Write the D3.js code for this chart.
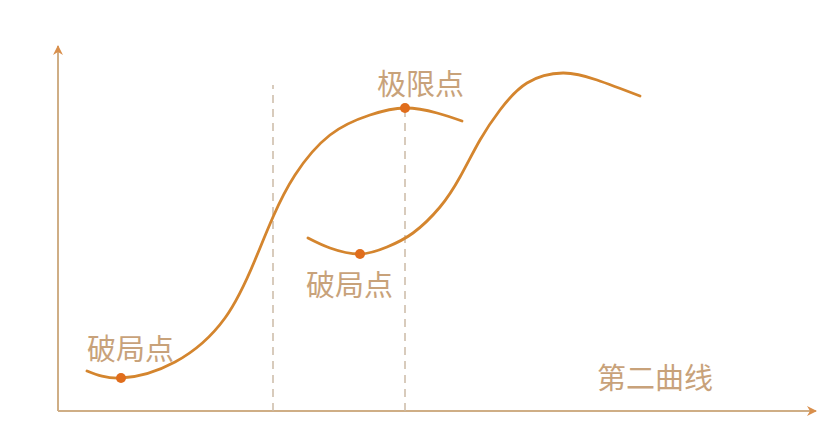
<!DOCTYPE html>
<html>
<head>
<meta charset="utf-8">
<script src="https://cdn.jsdelivr.net/npm/d3@7"></script>
<style>
  body { margin: 0; background: #fff; }
  text { font-family: "Noto Sans CJK SC", "Noto Sans", sans-serif; }
</style>
</head>
<body>
<svg id="drawing_region"></svg>
<script>
// curve values in chart units (x: 0..754 along the axis, y: 0..363 up)
const curve1 = [
    [29, 40], [63, 33], [117, 49], [167, 93], [197, 151], [215, 194],
    [237, 236], [272, 276], [312, 296], [347, 303], [379, 298], [404, 290]
];
const curve2 = [
    [250, 173], [272, 163], [302, 157], [329, 164], [355, 178], [382, 204],
    [402, 234], [422, 271], [442, 301], [469, 328], [505, 338], [539, 331],
    [582, 315]
];
const points = [
    { x: 63, y: 33, label: "破局点", dx: -34, dy: 18 },
    { x: 347, y: 303, label: "极限点", dx: -28, dy: 13 },
    { x: 302, y: 157, label: "破局点", dx: -54, dy: -42 }
];
const dividers = [215, 347];
const dividerTop = [326, 299];
const axisLabel = "第二曲线";

const config = {
    width: 838,
    height: 444,
    margin: { top: 48, right: 26, bottom: 33, left: 58 }
};

const svg = d3.select("#drawing_region")
    .attr("width", config.width)
    .attr("height", config.height);

const inner_width = config.width - config.margin.left - config.margin.right;
const inner_height = config.height - config.margin.top - config.margin.bottom;

const chart = svg.append("g")
    .attr("transform", `translate(${config.margin.left}, ${config.margin.top})`);

const xscale = d3.scaleLinear().domain([0, 754]).range([0, inner_width]);
const yscale = d3.scaleLinear().domain([0, 363]).range([inner_height, 0]);

const axisColor = "#cfae86";
const lineColor = "#d4852e";
const dotColor = "#e06d1c";
const textColor = "#c8a27a";

// arrow heads
const defs = svg.append("defs");
defs.append("marker")
    .attr("id", "arrow")
    .attr("viewBox", "0 0 10 10")
    .attr("refX", 9).attr("refY", 5)
    .attr("markerWidth", 5).attr("markerHeight", 5)
    .attr("markerUnits", "strokeWidth")
    .attr("orient", "auto")
    .append("path")
    .attr("d", "M0,0 L10,5 L0,10 L3,5 Z")
    .attr("fill", "#d98f4c");

// axes
chart.append("line")
    .attr("x1", 0).attr("y1", inner_height)
    .attr("x2", inner_width + 4).attr("y2", inner_height)
    .attr("stroke", axisColor).attr("stroke-width", 2)
    .attr("marker-end", "url(#arrow)");
chart.append("line")
    .attr("x1", 0).attr("y1", inner_height)
    .attr("x2", 0).attr("y2", -2)
    .attr("stroke", axisColor).attr("stroke-width", 2)
    .attr("marker-end", "url(#arrow)");

// dashed dividers
chart.selectAll(".divider")
    .data(dividers)
    .enter()
    .append("line")
    .attr("class", "divider")
    .attr("x1", d => xscale(d)).attr("x2", d => xscale(d))
    .attr("y1", yscale(0))
    .attr("y2", (d, i) => yscale(dividerTop[i]))
    .attr("stroke", "#cbbba6")
    .attr("stroke-width", 1.5)
    .attr("stroke-dasharray", "8,6");

// curves
const line = d3.line()
    .x(d => xscale(d[0]))
    .y(d => yscale(d[1]))
    .curve(d3.curveNatural);

[curve1, curve2].forEach(c => {
    chart.append("path")
        .datum(c)
        .attr("d", line)
        .attr("fill", "none")
        .attr("stroke", lineColor)
        .attr("stroke-width", 2.8)
        .attr("stroke-linecap", "round");
});

// key points
chart.selectAll(".dot")
    .data(points)
    .enter()
    .append("circle")
    .attr("class", "dot")
    .attr("cx", d => xscale(d.x))
    .attr("cy", d => yscale(d.y))
    .attr("r", 5)
    .attr("fill", dotColor);

chart.selectAll(".label")
    .data(points)
    .enter()
    .append("text")
    .attr("class", "label")
    .attr("x", d => xscale(d.x) + d.dx)
    .attr("y", d => yscale(d.y) - d.dy)
    .attr("font-size", "29px")
    .attr("fill", textColor)
    .text(d => d.label);

chart.append("text")
    .attr("x", xscale(539))
    .attr("y", inner_height - 22)
    .attr("font-size", "29px")
    .attr("fill", textColor)
    .text(axisLabel);
</script>
</body>
</html>
